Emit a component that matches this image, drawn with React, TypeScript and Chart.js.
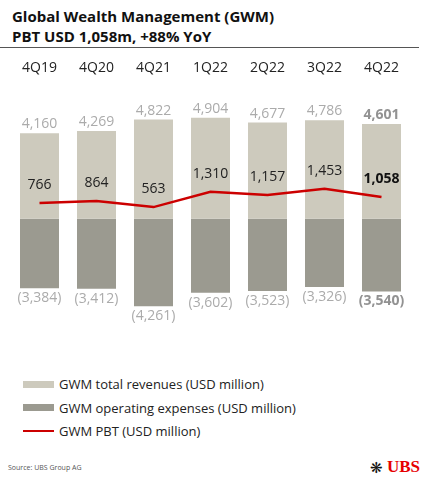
import React, { useRef, useEffect } from "react";
import { Chart, registerables } from "chart.js";

Chart.register(...registerables);

const categories = ["4Q19", "4Q20", "4Q21", "1Q22", "2Q22", "3Q22", "4Q22"];
const revenues = [4160, 4269, 4822, 4904, 4677, 4786, 4601];
const expenses = [-3384, -3412, -4261, -3602, -3523, -3326, -3540];
const pbt = [766, 864, 563, 1310, 1157, 1453, 1058];

const legendItems = [
  { label: "GWM total revenues (USD million)", color: "#cdcabd", kind: "box" },
  { label: "GWM operating expenses (USD million)", color: "#9b9a90", kind: "box" },
  { label: "GWM PBT (USD million)", color: "#cc0000", kind: "line" },
];

const FONT = "'Open Sans', 'Noto Sans', sans-serif";

const fmt = (v: number) =>
  v < 0 ? `(${Math.abs(v).toLocaleString("en-US")})` : v.toLocaleString("en-US");

const valueLabels = {
  id: "valueLabels",
  afterDatasetsDraw(chart: any) {
    const ctx = chart.ctx;
    const last = categories.length - 1;
    ctx.save();
    ctx.textAlign = "center";
    ctx.textBaseline = "alphabetic";

    chart.getDatasetMeta(0).data.forEach((el: any, i: number) => {
      ctx.font = `${i === last ? "bold " : ""}14px ${FONT}`;
      ctx.fillStyle = i === last ? "#929292" : "#ababab";
      ctx.fillText(fmt(revenues[i]), el.x, el.y - 5);
    });

    ctx.textBaseline = "top";
    chart.getDatasetMeta(1).data.forEach((el: any, i: number) => {
      ctx.font = `${i === last ? "bold " : ""}14px ${FONT}`;
      ctx.fillStyle = i === last ? "#929292" : "#ababab";
      ctx.fillText(fmt(expenses[i]), el.x, el.y + 3);
    });

    ctx.textBaseline = "alphabetic";
    chart.getDatasetMeta(2).data.forEach((el: any, i: number) => {
      ctx.font = `${i === last ? "bold " : ""}14px ${FONT}`;
      ctx.fillStyle = i === last ? "#111" : "#222";
      ctx.fillText(fmt(pbt[i]), el.x, el.y - 14);
    });
    ctx.restore();
  },
};

const GwmChart: React.FC = () => {
  const chartRef = useRef<HTMLCanvasElement | null>(null);

  useEffect(() => {
    document.body.style.margin = "0";
    if (!chartRef.current) return;

    const myChart = new Chart(chartRef.current, {
      type: "bar",
      data: {
        labels: categories,
        datasets: [
          {
            label: legendItems[0].label,
            data: revenues,
            backgroundColor: legendItems[0].color,
            grouped: false,
            barPercentage: 1,
            categoryPercentage: 0.684,
            order: 1,
          },
          {
            label: legendItems[1].label,
            data: expenses,
            backgroundColor: legendItems[1].color,
            grouped: false,
            barPercentage: 1,
            categoryPercentage: 0.684,
            order: 1,
          },
          {
            type: "line",
            label: legendItems[2].label,
            data: pbt,
            borderColor: legendItems[2].color,
            borderWidth: 2.5,
            pointRadius: 0,
            tension: 0,
            order: 0,
          } as any,
        ],
      },
      options: {
        animation: false,
        responsive: true,
        maintainAspectRatio: false,
        layout: { padding: { left: 11, right: 18, top: 10, bottom: 0 } },
        plugins: {
          legend: { display: false },
          tooltip: { enabled: false },
        },
        scales: {
          x: {
            position: "top",
            grid: { display: false, drawTicks: false },
            border: { display: false },
            ticks: { color: "#222", font: { family: FONT, size: 14 }, padding: 0 },
          },
          y: {
            min: -5900,
            max: 6900,
            ticks: { display: false, stepSize: 1000 },
            grid: {
              drawTicks: false,
              lineWidth: 2,
              color: (c: any) => (c.tick && c.tick.value === 0 ? "#b4b4b4" : "transparent"),
            },
            border: { display: false },
          },
        },
      },
      plugins: [valueLabels],
    });

    return () => {
      myChart.destroy();
    };
  }, []);

  return (
    <div style={{ position: "relative", width: 428, height: 480, fontFamily: FONT, color: "#222", background: "#fff" }}>
      <div style={{ position: "absolute", left: 12, top: 6, fontSize: 15, fontWeight: 700, lineHeight: "20px", color: "#111" }}>
        <div>Global Wealth Management (GWM)</div>
        <div>PBT USD 1,058m, +88% YoY</div>
      </div>
      <div style={{ position: "absolute", left: 0, top: 47, width: 419, height: 1, background: "#555" }} />
      <div style={{ position: "absolute", left: 0, top: 50, width: 428, height: 290 }}>
        <canvas ref={chartRef}></canvas>
      </div>
      {legendItems.map((item, i) => (
        <div
          key={item.label}
          style={{ position: "absolute", left: 23, top: 374 + i * 23.5, height: 20, display: "flex", alignItems: "center", fontSize: 13 }}
        >
          <span
            style={{
              display: "inline-block",
              width: 31,
              height: item.kind === "box" ? 7 : 2,
              background: item.color,
              marginRight: 5,
            }}
          />
          <span>{item.label}</span>
        </div>
      ))}
      <div style={{ position: "absolute", left: 8, top: 463, fontSize: 7, color: "#555" }}>Source: UBS Group AG</div>
      <div style={{ position: "absolute", right: 8, top: 457, display: "flex", alignItems: "center" }}>
        <span style={{ fontSize: 15, color: "#111", marginRight: 4 }}>❋</span>
        <span style={{ fontFamily: "'Liberation Serif', serif", fontWeight: 700, fontSize: 17, color: "#e60000" }}>UBS</span>
      </div>
    </div>
  );
};

export default function App() {
  return <GwmChart />;
}
